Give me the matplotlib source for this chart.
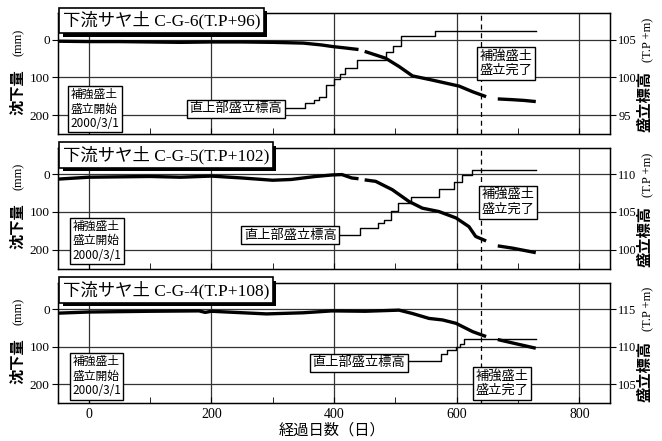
import numpy as np
import matplotlib.pyplot as plt
from matplotlib import patheffects
from matplotlib.ticker import MultipleLocator

plt.rcParams['font.family'] = ['Liberation Serif', 'Noto Sans CJK JP']
CJK = ['Noto Sans CJK JP', 'DejaVu Sans']

# ---- データ ----
titles = ['下流サヤ土 C-G-6(T.P+96)', '下流サヤ土 C-G-5(T.P+102)', '下流サヤ土 C-G-4(T.P+108)']
bases = [105, 110, 115]   # 右軸: 沈下量 0 mm に対応する標高

# 沈下量 (mm)  nan = 欠測
days1 = [-50, 0, 50, 100, 150, 200, 250, 300, 350, 380, 397, 419, 440, np.nan,
         450, 484, 506, 528, 560, 604, 626, 648, np.nan, 667, 691, 710, 729]
sett1 = [4, 5, 5, 6, 7, 6, 6, 7, 9, 14, 18, 22, 26, np.nan,
         31, 49, 71, 96, 107, 123, 138, 151, np.nan, 157, 159, 161, 164]

days2 = [-50, 0, 50, 100, 150, 200, 250, 300, 330, 370, 397, 413, 429, 440, np.nan,
         450, 468, 495, 522, 544, 571, 599, 620, 631, 648, np.nan, 667, 691, 729]
sett2 = [13, 8, 7, 6, 8, 5, 10, 16, 14, 6, 2, 1, 10, 12, np.nan,
         15, 19, 41, 72, 90, 99, 116, 139, 165, 177, np.nan, 190, 196, 208]

days3 = [-50, 0, 100, 180, 190, 200, 290, 350, 397, 451, 506, 528, 555, 577,
         599, 626, 648, np.nan, 667, 691, 729]
sett3 = [11, 8, 6, 5, 9, 6, 13, 10, 5, 6, 3, 12, 25, 29,
         38, 60, 73, np.nan, 81, 90, 104]

# 直上部盛立標高 (T.P +m)
edays1 = [300, 352, 368, 376, 387, 400, 410, 418, 438, 484, 497, 510, 565, 729]
elev1 = [96.0, 96.6, 97.0, 97.4, 99.0, 99.8, 100.5, 101.2, 102.3, 103.4, 104.1, 105.5, 106.2, 106.2]

edays2 = [400, 443, 471, 482, 493, 504, 526, 571, 596, 609, 625, 729]
elev2 = [102.0, 102.9, 103.5, 103.9, 105.1, 106.2, 107.0, 108.0, 109.0, 109.9, 110.5, 110.5]

edays3 = [500, 574, 585, 599, 606, 612, 729]
elev3 = [108.1, 109.0, 109.5, 109.9, 110.4, 111.0, 111.0]

# ラベル位置 (日, mm)
start_pos = [(10, 184), (14, 177), (13, 178)]
elev_pos = [(240, 183), (329, 162), (440, 143)]
end_pos = [(680, 63), (684, 74), (674, 197)]

settle = [(days1, sett1), (days2, sett2), (days3, sett3)]
elevs = [(edays1, elev1), (edays2, elev2), (edays3, elev3)]

W, H = 662, 441
fig = plt.figure(figsize=(6.62, 4.41), dpi=100)
tops = [13.3, 147.8, 282.6]

for i in range(3):
    top = tops[i]
    ax = fig.add_axes([58 / W, 1 - (top + 120.7) / H, 552 / W, 120.7 / H])
    ax.set_xlim(-50, 850)
    ax.set_ylim(250, -70)
    ax.set_yticks([0, 100, 200])
    ax.xaxis.set_major_locator(MultipleLocator(200))
    ax.xaxis.set_minor_locator(MultipleLocator(100))
    ax.grid(True, which='major', color='#333333', lw=0.9)
    ax.set_axisbelow(True)
    ax.tick_params(axis='x', which='both', direction='in', length=4, top=False,
                   labelsize=10)
    ax.tick_params(axis='y', direction='out', length=4, labelsize=9.5, pad=2)
    if i < 2:
        ax.tick_params(axis='x', labelbottom=False)
    for s in ax.spines.values():
        s.set_linewidth(1.0)

    d, v = settle[i]
    ax.plot(d, v, color='black', lw=2.4, solid_capstyle='butt')
    ax.axvline(640, color='black', lw=0.9, ls=(0, (4, 3)))

    base = bases[i]
    ax2 = ax.twinx()
    ax2.set_ylim(base - 250 / 20, base + 70 / 20)
    ax2.set_yticks([base - 10, base - 5, base])
    ax2.tick_params(axis='y', direction='out', length=4, labelsize=9, pad=2)
    ed, ev = elevs[i]
    ax2.plot(ed, ev, color='black', lw=1.0, drawstyle='steps-post')

    box = dict(boxstyle='square,pad=0.2', fc='white', ec='black', lw=1.0)
    ax2.text(*start_pos[i], '補強盛土\n盛立開始\n2000/3/1', transform=ax.transData,
             ha='center', va='center', multialignment='left', family=CJK,
             fontsize=8.5, linespacing=1.15, bbox=box, zorder=5)
    ax2.text(*elev_pos[i], '直上部盛立標高', transform=ax.transData,
             ha='center', va='center', family=CJK, fontsize=9.5, bbox=box, zorder=5)
    ax2.text(*end_pos[i], '補強盛土\n盛立完了', transform=ax.transData,
             ha='center', va='center', family=CJK, fontsize=9.5,
             linespacing=1.15, bbox=box, zorder=5)

    t = ax2.text(0.009, 0.94, titles[i], transform=ax.transAxes, ha='left',
                 va='center', fontsize=12.5,
                 bbox=dict(boxstyle='square,pad=0.2', fc='white', ec='black', lw=1.2),
                 zorder=6, clip_on=False)
    t.get_bbox_patch().set_path_effects([
        patheffects.SimplePatchShadow(offset=(2.5, -2.5), shadow_rgbFace='black', alpha=1),
        patheffects.Normal()])

    # 軸ラベル
    dy = top - 13.3
    fig.text(17 / W, 1 - (92 + dy) / H, '沈下量', rotation=90, ha='center', va='center',
             family=CJK, fontsize=11, weight='bold')
    fig.text(19 / W, 1 - (42 + dy) / H, '(mm)', rotation=90, ha='center', va='center',
             fontsize=9)
    fig.text(645 / W, 1 - (102 + dy) / H, '盛立標高', rotation=90, ha='center', va='center',
             family=CJK, fontsize=11, weight='bold')
    fig.text(648 / W, 1 - (40 + dy) / H, '(T.P +m)', rotation=90, ha='center', va='center',
             fontsize=9)

fig.text(332 / W, 1 - 430 / H, '経過日数（日）', ha='center', va='center', family=CJK,
         fontsize=11)

plt.savefig('out.png', dpi=100)
